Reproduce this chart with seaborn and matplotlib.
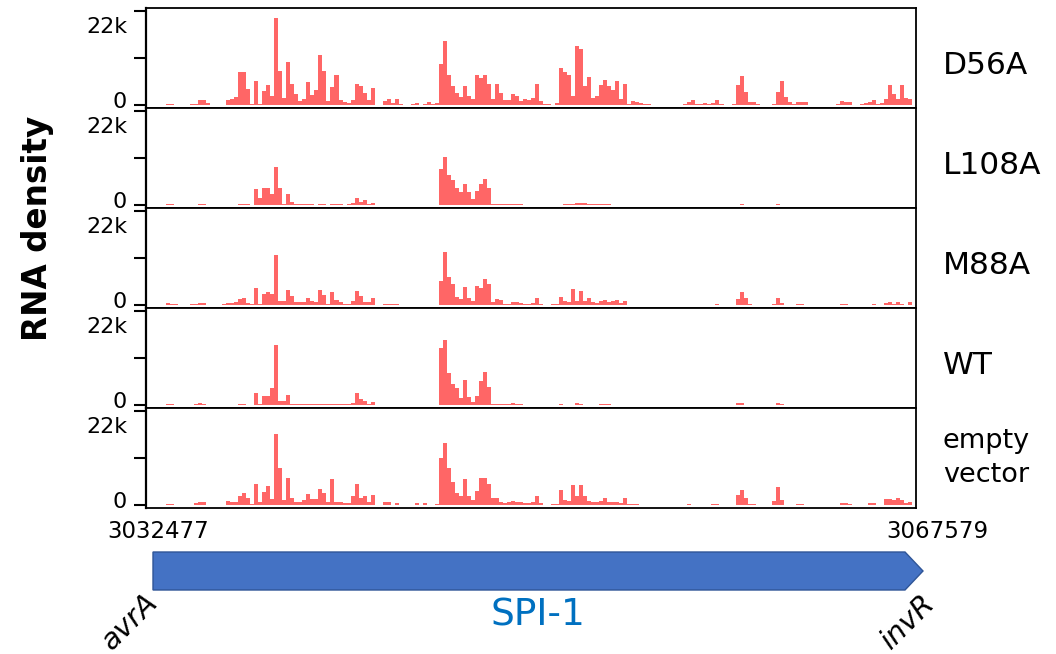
import numpy as np
import pandas as pd
import matplotlib
matplotlib.use("Agg")
import matplotlib.pyplot as plt
import seaborn as sns
from matplotlib.patches import Polygon

# ---------------- data ----------------
region_start = 3032477
region_end = 3067579
track_names = ["D56A", "L108A", "M88A", "WT", "empty\nvector"]
y_tick_labels = ["0", "22k"]
gene_left = "avrA"
gene_right = "invR"
island_name = "SPI-1"

# binned RNA density, thousands of reads per bin (192 equal bins over the region)
d56a_k = [
    0, 0, 0, 0, 0, 0.3, 0.2, 0.1, 0.1, 0.1,
    0.1, 0.2, 0.3, 1.2, 1.1, 0.5, 0.1, 0.1, 0.1, 0.1,
    1.2, 1.5, 1.9, 7.8, 7.8, 3.7, 0.2, 5.7, 0.3, 3.3,
    4.6, 2.0, 20.3, 8.0, 1.7, 10.0, 5.0, 2.5, 1.0, 1.5,
    5.4, 2.3, 3.5, 11.8, 8.0, 1.0, 4.3, 7.0, 1.2, 0.6,
    0.4, 1.1, 4.9, 4.5, 2.8, 1.2, 3.9, 0.0, 0.0, 1.0,
    1.5, 0.5, 1.3, 0.2, 0.0, 0.1, 0.3, 0.4, 0.1, 0.3,
    0.6, 0.3, 0.5, 9.6, 14.9, 7.0, 4.5, 2.7, 1.8, 4.5,
    2.0, 1.5, 7.0, 6.3, 7.0, 5.0, 1.5, 4.9, 2.9, 1.2,
    1.2, 2.5, 2.0, 1.0, 1.3, 1.2, 1.6, 5.0, 1.0, 0.2,
    0.3, 0.1, 0.5, 8.7, 7.7, 7.0, 2.0, 13.7, 13.2, 4.5,
    6.5, 1.7, 2.1, 4.7, 5.8, 4.5, 3.5, 5.7, 1.3, 4.9,
    0.3, 0.9, 0.6, 0.5, 0.2, 0.2, 0.0, 0.0, 0.0, 0.0,
    0.0, 0.0, 0.0, 0.0, 0.2, 0.7, 1.2, 0.2, 0.3, 0.5,
    0.2, 0.4, 1.1, 0.2, 0.1, 0.0, 0.3, 4.7, 6.9, 3.1,
    0.6, 0.8, 0.3, 0.1, 0.0, 0.0, 0.3, 3.0, 5.7, 1.9,
    0.6, 0.2, 0.7, 0.6, 0.6, 0.1, 0.0, 0.0, 0.0, 0.0,
    0.0, 0.0, 0.3, 0.9, 0.6, 0.7, 0.1, 0.1, 0.3, 0.5,
    0.8, 1.1, 0.3, 0.5, 1.5, 4.7, 2.5, 1.5, 4.7, 1.7,
    1.3, 0.0,
]
l108a_k = [
    0, 0, 0, 0, 0, 0.3, 0.2, 0.1, 0.1, 0.1,
    0.1, 0.1, 0.1, 0.2, 0.2, 0.0, 0.0, 0.0, 0.0, 0.0,
    0.0, 0.0, 0.1, 0.2, 0.2, 0.2, 0.1, 3.7, 1.6, 3.9,
    3.9, 2.5, 9.0, 4.0, 0.3, 2.5, 0.6, 0.3, 0.2, 0.2,
    0.3, 0.2, 0.1, 0.2, 0.2, 0.1, 0.2, 0.3, 0.2, 0.1,
    0.3, 0.5, 1.7, 0.8, 1.1, 0.2, 0.4, 0.0, 0.0, 0.0,
    0.0, 0.0, 0.0, 0.0, 0.0, 0.0, 0.0, 0.1, 0.1, 0.1,
    0.1, 0.1, 0.1, 8.4, 11.2, 7.0, 5.8, 4.0, 3.0, 5.0,
    3.0, 1.5, 3.3, 5.0, 6.0, 4.0, 0.3, 0.3, 0.2, 0.2,
    0.2, 0.3, 0.3, 0.2, 0.1, 0.1, 0.1, 0.1, 0.1, 0.1,
    0.1, 0.1, 0.1, 0.1, 0.3, 0.3, 0.3, 0.5, 0.5, 0.4,
    0.2, 0.2, 0.2, 0.2, 0.2, 0.2, 0.1, 0.1, 0.0, 0.0,
    0, 0, 0, 0, 0, 0, 0, 0, 0, 0,
    0, 0, 0, 0, 0, 0, 0, 0.1, 0, 0,
    0, 0, 0, 0, 0, 0, 0, 0.1, 0.3, 0.1,
    0.1, 0, 0, 0, 0, 0, 0.1, 0.3, 0.1, 0,
    0, 0, 0, 0, 0, 0, 0, 0, 0, 0,
    0, 0, 0, 0, 0, 0, 0, 0, 0, 0,
    0, 0, 0, 0, 0, 0, 0, 0, 0, 0,
    0.1, 0,
]
m88a_k = [
    0, 0, 0, 0, 0, 0.4, 0.3, 0.2, 0.1, 0.1,
    0.1, 0.2, 0.3, 0.5, 0.4, 0.1, 0.0, 0.0, 0.1, 0.2,
    0.4, 0.5, 0.6, 1.5, 1.7, 0.5, 0.3, 3.9, 0.3, 2.5,
    3.1, 2.5, 11.8, 0.9, 0.9, 3.5, 2.1, 0.6, 0.7, 0.8,
    1.6, 0.9, 0.7, 3.5, 2.3, 0.3, 3.1, 1.1, 0.8, 0.3,
    0.3, 0.9, 3.3, 2.0, 0.7, 0.7, 1.7, 0.0, 0.0, 0.2,
    0.2, 0.2, 0.2, 0.1, 0.1, 0.1, 0.1, 0.1, 0.1, 0.1,
    0.1, 0.1, 0.1, 5.7, 12.4, 6.5, 4.9, 1.9, 1.5, 4.1,
    1.7, 0.9, 4.5, 3.9, 6.1, 5.0, 0.6, 1.5, 1.1, 0.3,
    0.3, 0.8, 0.7, 0.4, 0.3, 0.3, 0.4, 1.7, 0.3, 0.1,
    0.1, 0.2, 0.3, 1.9, 0.9, 0.8, 3.7, 0.9, 3.2, 0.9,
    1.7, 0.6, 0.5, 0.9, 1.2, 0.6, 0.9, 1.2, 0.4, 0.9,
    0.1, 0.1, 0.1, 0.1, 0, 0, 0, 0, 0, 0,
    0, 0, 0, 0, 0, 0.1, 0.1, 0, 0, 0,
    0, 0.1, 0.2, 0, 0, 0, 0, 1.3, 3.1, 1.6,
    0.3, 0.1, 0.1, 0, 0, 0, 0.3, 1.7, 0.5, 0,
    0, 0, 0.2, 0.2, 0, 0, 0, 0, 0, 0,
    0, 0, 0, 0.2, 0.2, 0, 0, 0, 0, 0.1,
    0.1, 0.2, 0, 0, 0.4, 0.6, 0.3, 0.8, 0.3, 0,
    0.6, 0,
]
wt_k = [
    0, 0, 0, 0, 0, 0.3, 0.2, 0.1, 0.1, 0.1,
    0.1, 0.1, 0.3, 0.4, 0.2, 0.1, 0, 0, 0, 0.1,
    0.1, 0.1, 0.1, 0.3, 0.2, 0.1, 0.1, 2.9, 0.3, 2.1,
    2.1, 4.0, 14.0, 0.9, 0.9, 2.3, 0.3, 0.3, 0.3, 0.3,
    0.2, 0.2, 0.2, 0.2, 0.2, 0.2, 0.2, 0.2, 0.2, 0.2,
    0.3, 0.5, 2.9, 1.3, 0.9, 0.2, 0.6, 0, 0, 0.1,
    0.1, 0, 0.1, 0, 0, 0, 0, 0.1, 0, 0.1,
    0, 0, 0.1, 13.3, 15.1, 7.5, 4.9, 3.9, 1.6, 5.9,
    1.9, 0.6, 2.1, 5.7, 7.7, 4.1, 0.3, 0.3, 0.2, 0.2,
    0.3, 0.4, 0.3, 0.2, 0.1, 0.1, 0.1, 0.1, 0.1, 0.1,
    0.1, 0.1, 0.1, 0.3, 0.1, 0.1, 0.1, 0.4, 0.2, 0.1,
    0.1, 0.1, 0.1, 0.2, 0.2, 0.2, 0.1, 0.1, 0.1, 0.1,
    0, 0, 0, 0, 0, 0, 0, 0, 0, 0,
    0, 0, 0, 0, 0, 0.1, 0, 0, 0, 0,
    0, 0.1, 0, 0, 0, 0, 0, 0.4, 0.4, 0.1,
    0, 0, 0, 0, 0, 0, 0, 0.4, 0.2, 0,
    0, 0, 0.1, 0, 0, 0, 0, 0, 0, 0,
    0, 0, 0, 0, 0, 0, 0, 0, 0, 0,
    0, 0, 0, 0, 0.1, 0.1, 0.1, 0.1, 0.1, 0,
    0.1, 0,
]
empty_k = [
    0, 0, 0, 0, 0, 0.3, 0.2, 0.0, 0.1, 0.0,
    0.0, 0.1, 0.5, 0.6, 0.8, 0, 0, 0, 0, 0,
    0.9, 0.6, 0.8, 2.0, 2.9, 1.6, 0.2, 4.9, 0.8, 3.0,
    4.5, 1.3, 16.6, 8.7, 1.2, 6.3, 1.6, 0.8, 0.6, 1.2,
    2.5, 1.3, 1.5, 3.7, 2.8, 0.8, 6.1, 0.8, 0.6, 0.4,
    0.4, 2.0, 4.9, 1.6, 2.0, 0.8, 2.4, 0, 0, 0.6,
    0.6, 0.1, 0.4, 0, 0, 0, 0, 0.4, 0, 0.4,
    0, 0, 0.2, 11.0, 14.6, 8.7, 5.5, 2.8, 2.0, 6.1,
    2.0, 1.2, 3.3, 6.3, 6.3, 5.0, 1.6, 1.7, 0.8, 0.4,
    0.8, 0.9, 0.8, 0.6, 0.4, 0.5, 0.6, 2.0, 0.4, 0.1,
    0.1, 0.2, 0.3, 3.5, 1.2, 1.0, 4.7, 2.0, 4.7, 2.0,
    0.9, 0.8, 0.7, 1.0, 1.6, 0.8, 0.8, 0.7, 0.5, 1.6,
    0.3, 0.2, 0.2, 0.1, 0, 0, 0, 0, 0, 0,
    0, 0, 0, 0, 0, 0.3, 0, 0, 0, 0,
    0, 0.3, 0.3, 0, 0, 0, 0, 2.4, 3.6, 1.6,
    0.2, 0.2, 0, 0, 0, 0, 1.0, 4.2, 1.2, 0.1,
    0, 0, 0.3, 0.2, 0, 0, 0, 0, 0, 0,
    0, 0, 0, 0.4, 0.4, 0.2, 0, 0, 0, 0.1,
    0.4, 0.4, 0.1, 0, 1.4, 1.4, 1.2, 1.6, 1.2, 0.5,
    0.8, 0,
]
track_values_k = [d56a_k, l108a_k, m88a_k, wt_k, empty_k]

# ---------------- style ----------------
sns.set_theme(style="white")
plt.rcParams["font.family"] = ["DejaVu Sans"]
bar_color = "#FF6666"

W, H = 1056, 654
fig = plt.figure(figsize=(W / 100, H / 100), dpi=100)

n_bins = len(d56a_k)
for v in track_values_k:
    assert len(v) == n_bins
edges = np.linspace(region_start, region_end, n_bins + 1)
centers = (edges[:-1] + edges[1:]) / 2

panel_left, panel_right = 146, 916
panel_top0, panel_h = 8, 100
ymax = 22000
pad = 700

for i, (name, vals_k) in enumerate(zip(track_names, track_values_k)):
    top = panel_top0 + i * panel_h
    ax = fig.add_axes([panel_left / W, 1 - (top + panel_h) / H,
                       (panel_right - panel_left) / W, panel_h / H])
    df = pd.DataFrame({"pos": centers,
                       "reads": np.asarray(vals_k, dtype=float) * 1000})
    sns.histplot(data=df, x="pos", weights="reads", bins=list(edges), ax=ax,
                 color=bar_color, alpha=1, linewidth=0, element="bars", fill=True)
    ax.set_xlim(region_start, region_end)
    ax.set_ylim(-pad, ymax + pad)
    ax.set_xlabel("")
    ax.set_ylabel("")
    ax.set_xticks([])
    ax.set_yticks([0, ymax / 2, ymax])
    ax.set_yticklabels([])
    ax.tick_params(axis="y", left=True, length=8.6, width=1.5, color="black",
                   direction="out")
    for sp in ax.spines.values():
        sp.set_color("black")
        sp.set_linewidth(1.3)
        sp.set_visible(True)
    ax.spines["left"].set_linewidth(1.6)
    # y labels
    ax.annotate(y_tick_labels[0], xy=(0, 0), xycoords=("axes fraction", "data"),
                xytext=(-13.5, -2.2), textcoords="offset points",
                ha="right", va="baseline", fontsize=16, color="black")
    ax.annotate(y_tick_labels[1], xy=(0, ymax), xycoords=("axes fraction", "data"),
                xytext=(-13.5, -16), textcoords="offset points",
                ha="right", va="baseline", fontsize=16, color="black")
    # track name
    if "\n" in name:
        ax.text(1.035, 0.5, name, transform=ax.transAxes, ha="left", va="center",
                fontsize=19.5, linespacing=1.35, color="black")
    else:
        ax.text(1.035, 0.42, name, transform=ax.transAxes, ha="left", va="center",
                fontsize=22.5, color="black")

# axis title
fig.text(38 / W, 1 - 228 / H, "RNA density", rotation=90, ha="center", va="center",
         fontsize=23.5, fontweight="bold", color="black")

# coordinates
fig.text(158 / W, 1 - 531 / H, str(region_start), ha="center", va="center",
         fontsize=16.5, color="black")
fig.text(937 / W, 1 - 531 / H, str(region_end), ha="center", va="center",
         fontsize=16.5, color="black")

# gene track (pixel-based annotation layer)
ov = fig.add_axes([0, 0, 1, 1], zorder=-1)
ov.set_xlim(0, W)
ov.set_ylim(H, 0)
ov.axis("off")
arrow = Polygon([(153, 552), (905, 552), (923, 571), (905, 590), (153, 590)],
                closed=True, facecolor="#4472C4", edgecolor="#2F5597", linewidth=1)
ov.add_patch(arrow)

fig.text(538 / W, 1 - 616 / H, island_name, ha="center", va="center",
         fontsize=27, color="#0070C0")
fig.text(130 / W, 1 - 622 / H, gene_left, ha="center", va="center",
         fontsize=21, style="italic", rotation=45, color="black")
fig.text(908 / W, 1 - 622 / H, gene_right, ha="center", va="center",
         fontsize=21, style="italic", rotation=45, color="black")

fig.savefig("out.png", dpi=100, facecolor="white")
